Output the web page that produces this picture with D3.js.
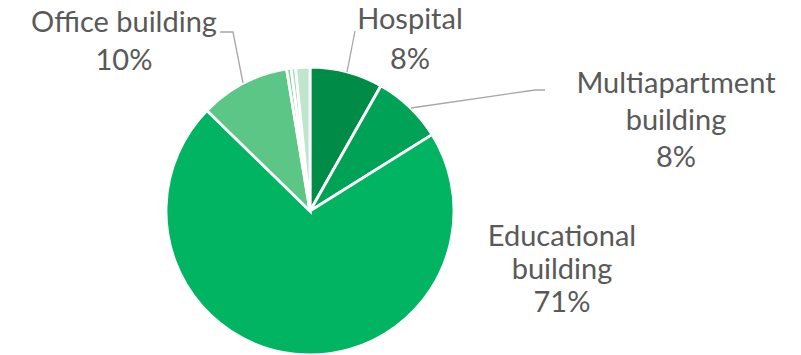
<!DOCTYPE html>
<html>
<head>
<meta charset="utf-8">
<script src="https://cdn.jsdelivr.net/npm/d3@7"></script>
<style>
  body { margin: 0; background: #fff; }
  svg text { font-family: Lato, "Noto Sans", sans-serif; fill: #595959; }
</style>
</head>
<body>
<div id="chart"></div>
<script>
// building types, clockwise from 12 o'clock
var categories = ["Hospital", "Multiapartment building", "Educational building", "Office building", "Other A", "Other B", "Other C"];
var shares = [8.2, 7.9, 71.2, 10.1, 0.5, 0.5, 1.6];
var colors = ["#008b47", "#00a255", "#00b462", "#5bc685", "#86d3a3", "#a3dcb9", "#bfe6cd"];
// which slices get a label, and the label lines
var labelLines = {
  "Hospital": ["Hospital"],
  "Multiapartment building": ["Multiapartment", "building"],
  "Educational building": ["Educational", "building"],
  "Office building": ["Office building"]
};

var width = 801, height = 355;
var cx = 310, cy = 211, radius = 144;

var svg = d3.select("#chart")
  .append("svg")
  .attr("width", width)
  .attr("height", height);

var g = svg.append("g")
  .attr("transform", "translate(" + cx + "," + cy + ")");

var data = categories.map(function (c, i) { return { name: c, value: shares[i], color: colors[i] }; });

var pie = d3.pie()
  .sort(null)
  .value(function (d) { return d.value; });

var arc = d3.arc()
  .innerRadius(0)
  .outerRadius(radius);

var arcs = pie(data);

g.selectAll("path")
  .data(arcs)
  .join("path")
  .attr("d", arc)
  .attr("fill", function (d) { return d.data.color; })
  .attr("stroke", "#fff")
  .attr("stroke-width", 2.8);

// label placement (Excel had these dragged around by hand)
var labelPos = {
  "Hospital": { x: 410, y: 29, lh: 40, leader: [[355, 31], [347, 72]] },
  "Multiapartment building": { x: 676, y: 93, lh: 37, leader: [[545, 90], [535, 90], [411, 108]] },
  "Educational building": { x: 562, y: 246, lh: 33, leader: null },
  "Office building": { x: 124, y: 32, lh: 38, leader: [[220, 32], [233, 32], [243, 83]] }
};

var line = d3.line();

arcs.forEach(function (d) {
  var name = d.data.name;
  if (!labelLines[name]) return;
  var p = labelPos[name];
  if (p.leader) {
    svg.append("path")
      .attr("d", line(p.leader))
      .attr("fill", "none")
      .attr("stroke", "#a6a6a6")
      .attr("stroke-width", 1.3);
  }
  var lines = labelLines[name].concat([Math.round(d.data.value) + "%"]);
  var t = svg.append("text")
    .attr("text-anchor", "middle")
    .style("font-size", "29px");
  lines.forEach(function (s, i) {
    t.append("tspan")
      .attr("x", p.x)
      .attr("y", p.y + i * p.lh)
      .text(s);
  });
});
</script>
</body>
</html>
